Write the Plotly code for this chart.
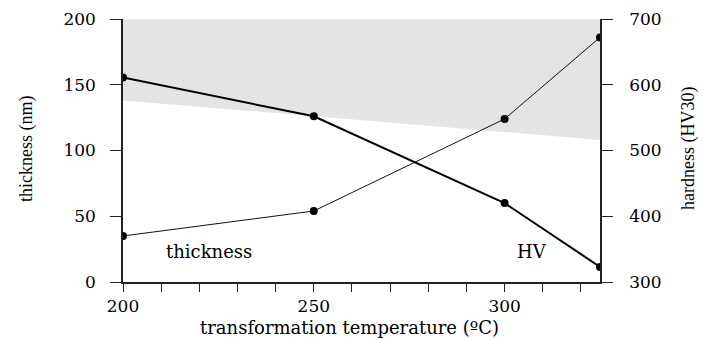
import plotly.graph_objects as go

# Transformation temperature (°C)
temperature = [200, 250, 300, 325]
# Plate thickness (nm), left axis
thickness = [35, 54, 124, 186]
# Hardness (HV30), right axis
hardness = [611, 552, 420, 323]

# Shaded band (thickness axis units)
band_x = [200, 325]
band_lower = [138, 108]
band_upper = [200, 200]

x_ticks = [200, 250, 300]
y_ticks = [0, 50, 100, 150, 200]
y2_ticks = [300, 400, 500, 600, 700]

serif_wide = "DejaVu Serif"
serif = "Liberation Serif, Times New Roman, serif"

fig = go.Figure()

fig.add_trace(go.Scatter(
    x=band_x + band_x[::-1],
    y=band_lower + band_upper[::-1],
    fill="toself", fillcolor="#e3e4e6",
    line=dict(width=0), mode="lines", hoverinfo="skip", showlegend=False,
))

fig.add_trace(go.Scatter(
    x=temperature, y=thickness, mode="lines+markers",
    line=dict(color="#111111", width=1),
    marker=dict(color="#000000", size=8),
    showlegend=False,
))

fig.add_trace(go.Scatter(
    x=temperature, y=hardness, mode="lines+markers", yaxis="y2",
    line=dict(color="#000000", width=2),
    marker=dict(color="#000000", size=8),
    showlegend=False,
))

tick_font = dict(family=serif_wide, size=17, color="#000000")
axis_color = "#222222"

fig.update_layout(
    width=715, height=338,
    margin=dict(l=123, r=115, t=19, b=56),
    paper_bgcolor="white", plot_bgcolor="white",
    xaxis=dict(
        range=[200, 325], tickvals=x_ticks, ticks="outside", ticklen=8,
        tickwidth=1.2, tickcolor=axis_color, automargin=False,
        minor=dict(dtick=10, tick0=200, ticks="outside", ticklen=8, tickwidth=1.2, tickcolor=axis_color),
        showline=True, linecolor=axis_color, linewidth=1.5,
        showgrid=False, zeroline=False, tickfont=tick_font, ticklabelstandoff=0,
    ),
    yaxis=dict(
        range=[0, 200], tickvals=y_ticks, ticks="outside", ticklen=11,
        tickwidth=1.2, tickcolor=axis_color, automargin=False,
        showline=True, linecolor=axis_color, linewidth=1.5,
        showgrid=False, zeroline=False, tickfont=tick_font, ticklabelstandoff=11,
    ),
    yaxis2=dict(
        range=[300, 700], tickvals=y2_ticks, overlaying="y", side="right",
        ticks="outside", ticklen=11, tickwidth=1.2, tickcolor=axis_color, automargin=False,
        showline=True, linecolor=axis_color, linewidth=1.5,
        showgrid=False, zeroline=False, tickfont=tick_font, ticklabelstandoff=13,
    ),
    annotations=[
        # axis titles
        dict(x=349, y=338 - 327, xref="paper", yref="paper", text="transformation temperature (ºC)",
             showarrow=False, xanchor="center", yanchor="middle",
             font=dict(family=serif_wide, size=18, color="#000000")),
        dict(x=26, y=338 - 149, xref="paper", yref="paper", text="thickness (nm)", textangle=-90,
             showarrow=False, xanchor="center", yanchor="middle",
             font=dict(family=serif, size=18, color="#000000")),
        dict(x=688, y=338 - 149, xref="paper", yref="paper", text="hardness (HV30)", textangle=-90,
             showarrow=False, xanchor="center", yanchor="middle",
             font=dict(family=serif, size=18, color="#000000")),
        # series labels
        dict(x=222.5, y=23, xref="x", yref="y", text="thickness", showarrow=False,
             xanchor="center", yanchor="middle", font=dict(family=serif_wide, size=18, color="#000000")),
        dict(x=307.3, y=23, xref="x", yref="y", text="HV", showarrow=False,
             xanchor="center", yanchor="middle", font=dict(family=serif_wide, size=18, color="#000000")),
    ],
)

# Title annotations are given in pixel coordinates; convert to paper fractions.
pa_l, pa_r, pa_t, pa_b = 123, 600, 19, 282
for ann in fig.layout.annotations[:3]:
    ann.x = (ann.x - pa_l) / (pa_r - pa_l)
    ann.y = (ann.y - (338 - pa_b)) / (pa_b - pa_t)

fig.write_html("out.html")
